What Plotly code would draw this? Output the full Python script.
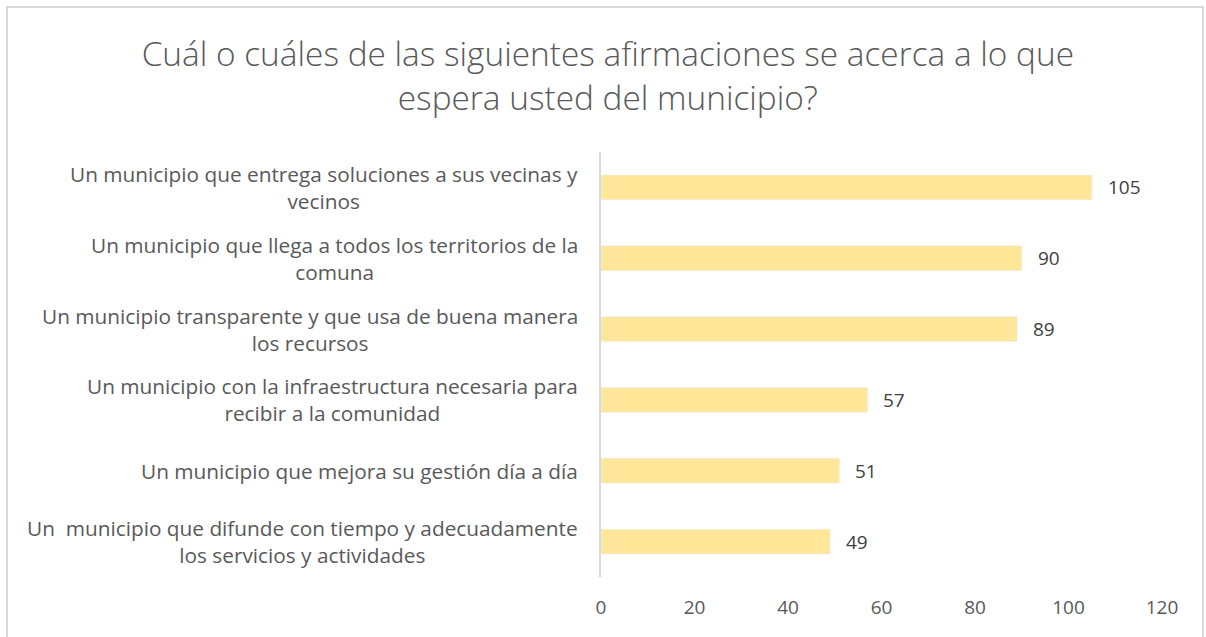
import plotly.graph_objects as go

# datos de la encuesta
categorias = [
    "Un  municipio que difunde con tiempo y adecuadamente<br>los servicios y actividades",
    "Un municipio que mejora su gestión día a día",
    "Un municipio con la infraestructura necesaria para<br>recibir a la comunidad",
    "Un municipio transparente y que usa de buena manera<br>los recursos",
    "Un municipio que llega a todos los territorios de la<br>comuna",
    "Un municipio que entrega soluciones a sus vecinas y<br>vecinos",
]
valores = [49, 51, 57, 89, 90, 105]
ticks_x = [0, 20, 40, 60, 80, 100, 120]

gris = "#595959"
fuente = "Open Sans"

fig = go.Figure()
fig.add_trace(go.Bar(
    x=valores,
    y=categorias,
    orientation="h",
    marker_color="#FFE699",
    hoverinfo="x+y",
))

# etiquetas de categorias centradas como en excel
for cat in categorias:
    fig.add_annotation(
        x=0, y=cat, xref="x", yref="y",
        text=cat, showarrow=False,
        xanchor="right", align="center",
        xshift=-21,
        font=dict(size=20.8, color=gris, family=fuente),
    )

# etiquetas de datos
for cat, v in zip(categorias, valores):
    fig.add_annotation(
        x=v, y=cat, xref="x", yref="y",
        text=str(v), showarrow=False,
        xanchor="left", xshift=14,
        font=dict(size=19, color="#404040", family=fuente),
    )

# marco del grafico
fig.add_shape(type="rect", xref="paper", yref="paper",
              x0=-1.0588, x1=1.0731, y0=-0.2, y1=1.341,
              line=dict(color="#D9D9D9", width=2))

fig.update_layout(
    width=1206, height=637,
    margin=dict(l=601, r=44, t=152, b=60),
    paper_bgcolor="white", plot_bgcolor="white",
    bargap=0.65,
    showlegend=False,
    font=dict(family=fuente, color=gris),
    title=dict(
        text="Cuál o cuáles de las siguientes afirmaciones se acerca a lo que<br>espera usted del municipio?",
        x=0.504, xanchor="center", y=0.896, yanchor="middle",
        font=dict(size=33.4, color=gris, family=fuente, weight=300),
    ),
    xaxis=dict(
        range=[0, 120], tickvals=ticks_x, showgrid=False, zeroline=False,
        showline=False, ticks="", ticklabelstandoff=17,
        tickfont=dict(size=19, color=gris, family=fuente),
    ),
    yaxis=dict(
        showticklabels=False, showgrid=False, zeroline=False,
        showline=True, linecolor="#D9D9D9", linewidth=2, ticks="",
    ),
)

fig.write_html("out.html", config={"displayModeBar": False},
               post_script="document.body.style.margin='0';")
